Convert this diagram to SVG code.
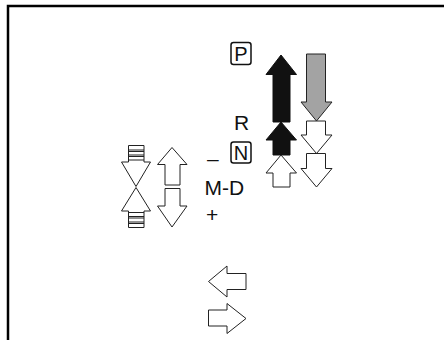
<svg xmlns="http://www.w3.org/2000/svg" width="444" height="340" viewBox="0 0 444 340">
<style>
.lbl{font-family:"Liberation Sans",Arial,sans-serif;font-size:21px;fill:#111}
.in{font-size:20px}
.box{fill:#fff;stroke:#111;stroke-width:1.5}
.blk{fill:#111;stroke:#111;stroke-width:1}
.gry{fill:#a3a3a3;stroke:#222;stroke-width:1}
.wht{fill:#fff;stroke:#222;stroke-width:1}
.ln{stroke:#222;stroke-width:1}
</style>
<rect width="444" height="340" fill="#fff"/>
<path d="M8,340 V6 H444" fill="none" stroke="#000" stroke-width="2.5"/>
<g id="label-P"><rect class="box" x="231" y="42.5" width="20" height="22" rx="2.5"/><text class="lbl in" x="241" y="61" text-anchor="middle">P</text></g>
<g id="label-R"><text class="lbl" x="234" y="130">R</text></g>
<g id="label-N"><rect class="box" x="231" y="142" width="20" height="21" rx="2.5"/><text class="lbl in" x="241" y="160" text-anchor="middle">N</text><text class="lbl" x="207" y="166">–</text></g>
<g id="label-MD"><text class="lbl" x="204.5" y="195">M-D</text><text class="lbl" x="206" y="222">+</text></g>
<g id="connectors">
<polygon class="blk" points="281,55 296.5,74.5 290,74.5 290,122 273,122 273,74.5 266,74.5"/>
<polygon class="blk" points="281,122 296.5,140 290,140 290,155 273,155 273,140 266,140"/>
<polygon class="wht" points="281,155 296.5,173 290,173 290,187 273,187 273,173 266,173"/>
<polygon class="gry" points="306.5,54 325.5,54 325.5,102 332,102 316.5,121 301,102 306.5,102"/>
<polygon class="wht" points="306.5,121 325.5,121 325.5,135 332,135 316.5,153.5 301,135 306.5,135"/>
<polygon class="wht" points="306.5,153.5 325.5,153.5 325.5,168.5 332,168.5 316.5,187 301,168.5 306.5,168.5"/>
<polygon class="wht" points="128.5,145.5 144,145.5 144,162 150.5,162 136,186.5 121.5,162 128.5,162"/>
<path class="ln" d="M128.5,150 H144 M128.5,151.5 H144 M128.5,155 H144 M128.5,156.5 H144 M128.5,160 H144"/>
<polygon class="wht" points="136,187.5 150.5,211 144,211 144,227.5 128.5,227.5 128.5,211 121.5,211"/>
<path class="ln" d="M128.5,212.5 H144 M128.5,216.5 H144 M128.5,218 H144 M128.5,222 H144 M128.5,223.5 H144"/>
<polygon class="wht" points="172,147.5 187,164.5 180,164.5 180,185 165,185 165,164.5 157.5,164.5"/>
<polygon class="wht" points="165,188.5 180,188.5 180,206 187,206 172,227 157.5,206 165,206"/>
<polygon class="wht" points="208.5,281.5 227,266 227,273.5 246,273.5 246,289.5 227,289.5 227,297"/>
<polygon class="wht" points="246,318.5 227,303.5 227,310 208.5,310 208.5,326 227,326 227,333.5"/>
</g>
</svg>
